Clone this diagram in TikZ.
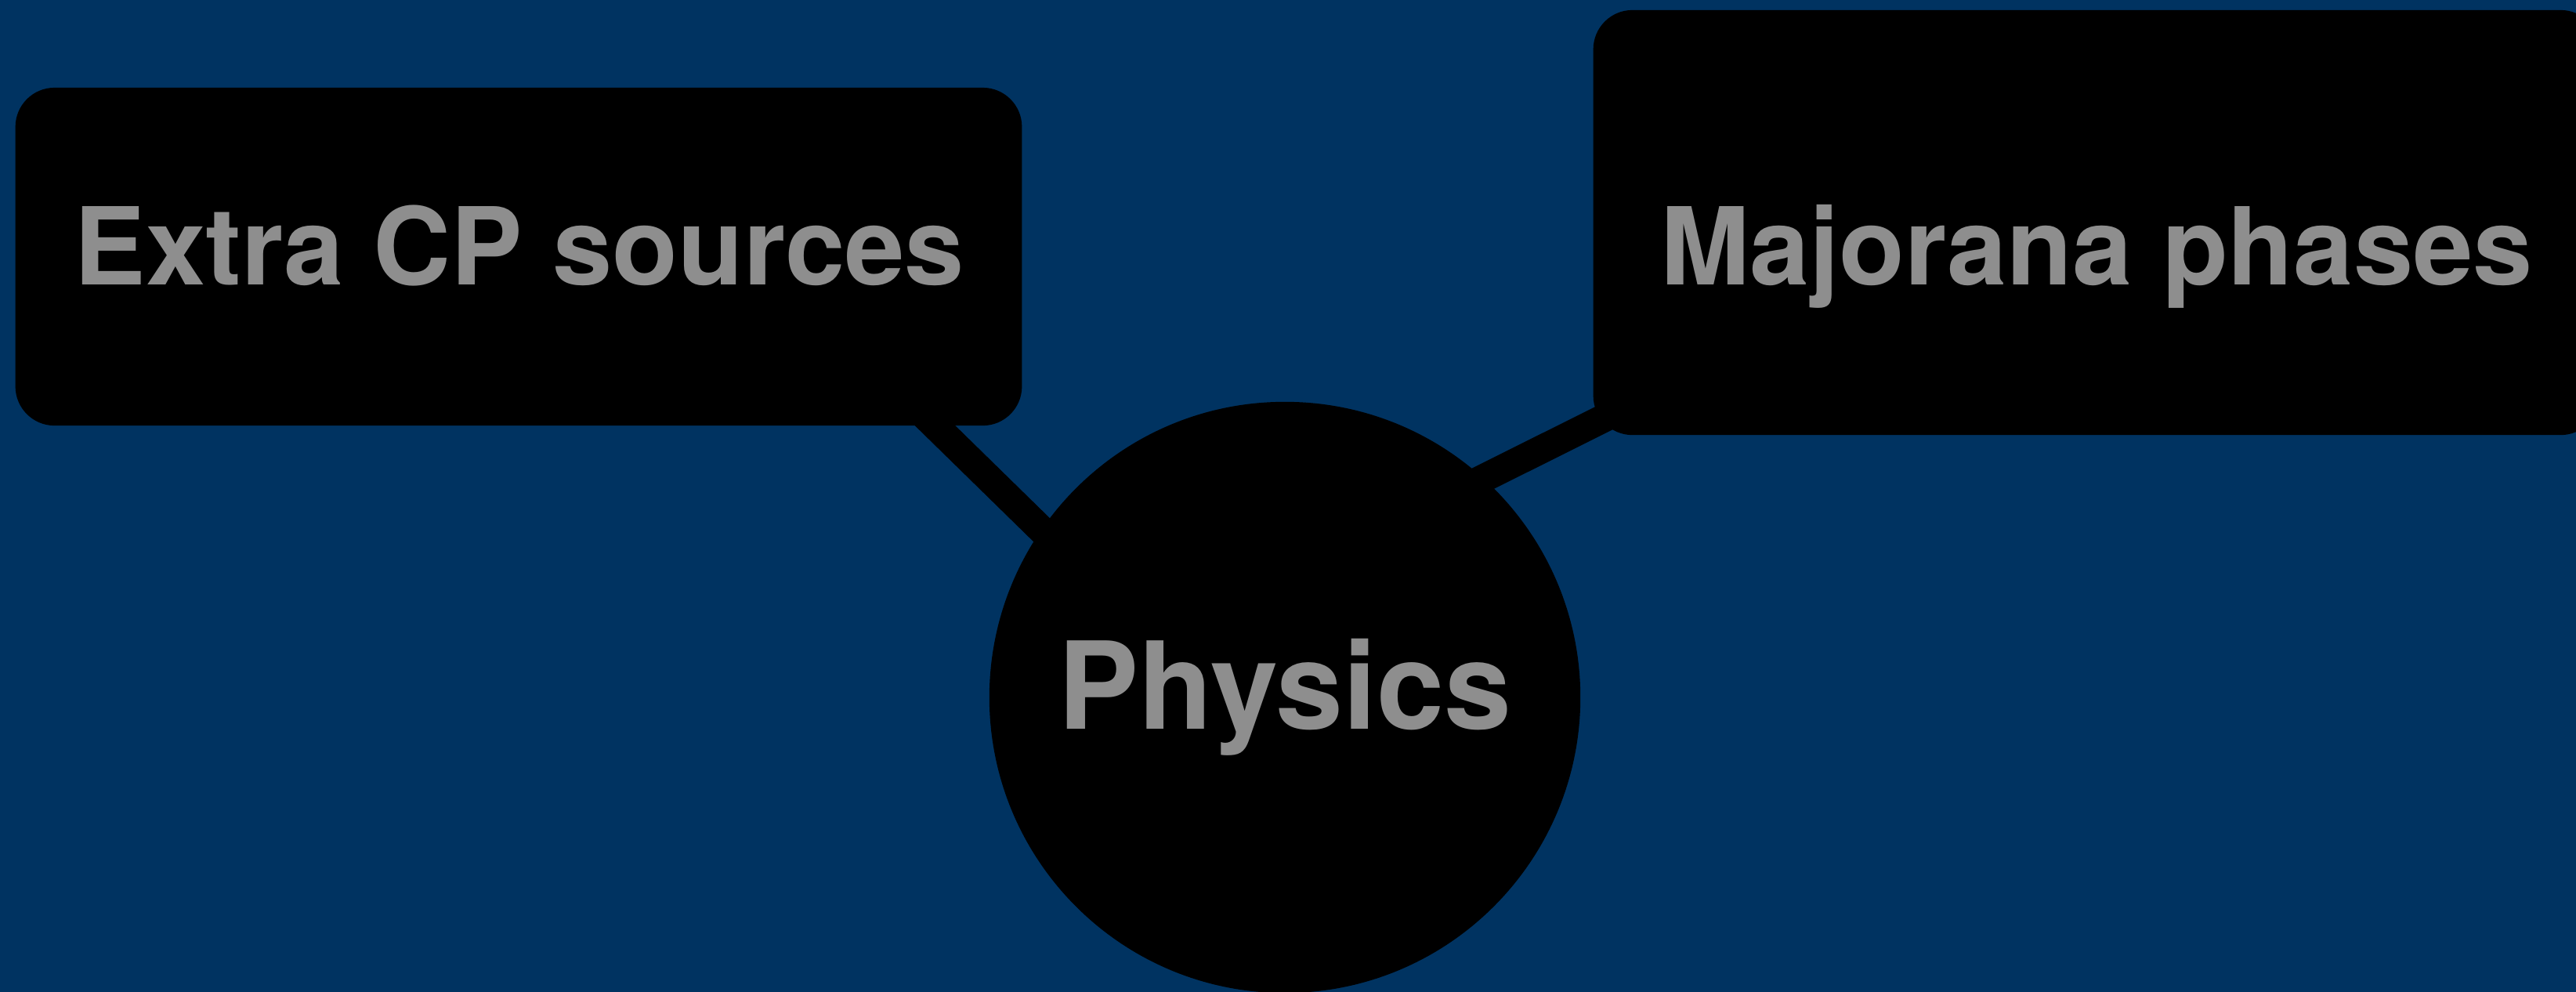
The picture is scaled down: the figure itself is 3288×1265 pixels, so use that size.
\documentclass[tikz,border=0pt]{standalone}
\usepackage{fontspec}
\setmainfont{TeX Gyre Heros}
\usetikzlibrary{calc,backgrounds}
\definecolor{slideblue}{RGB}{0,51,97}
\definecolor{labelgray}{RGB}{142,142,142}

\begin{document}
\begin{tikzpicture}[
  x=0.01cm, y=-0.01cm,
  font=\bfseries,
  topic/.style={fill=black, rounded corners=0.5cm, minimum width=12.84cm, inner sep=0pt},
  hub/.style={circle, fill=black, minimum size=7.54cm, inner sep=0pt, text=labelgray, font=\bfseries\fontsize{44}{52}\selectfont},
  caption/.style={anchor=base, text=labelgray, inner sep=0pt, font=\bfseries\fontsize{39}{47}\selectfont},
  link/.style={line width=0.36cm}
]
\useasboundingbox (0,0) rectangle (3288,1265);
\node[topic, minimum height=4.31cm] (cp) at (662,327.5) {};
\node[topic, minimum height=5.42cm] (maj) at (2676,284) {};
\node[hub] (phys) at (1640,890) {Physics};
\node[caption] (cplabel) at (663,363) {Extra CP sources};
\node[caption] (majlabel) at (2676,363) {Majorana phases};
\begin{pgfonlayer}{background}
\fill[slideblue] (-20,-20) rectangle (3308,1285);
\draw[link] ($(cp.south east)+(-211,-98)$) -- ($(phys.center)+(-92,0)$);
\draw[link] ($(phys.center)+(0,-153)$) -- ($(maj.south west)+(100,-65)$);
\end{pgfonlayer}
\end{tikzpicture}
\end{document}
